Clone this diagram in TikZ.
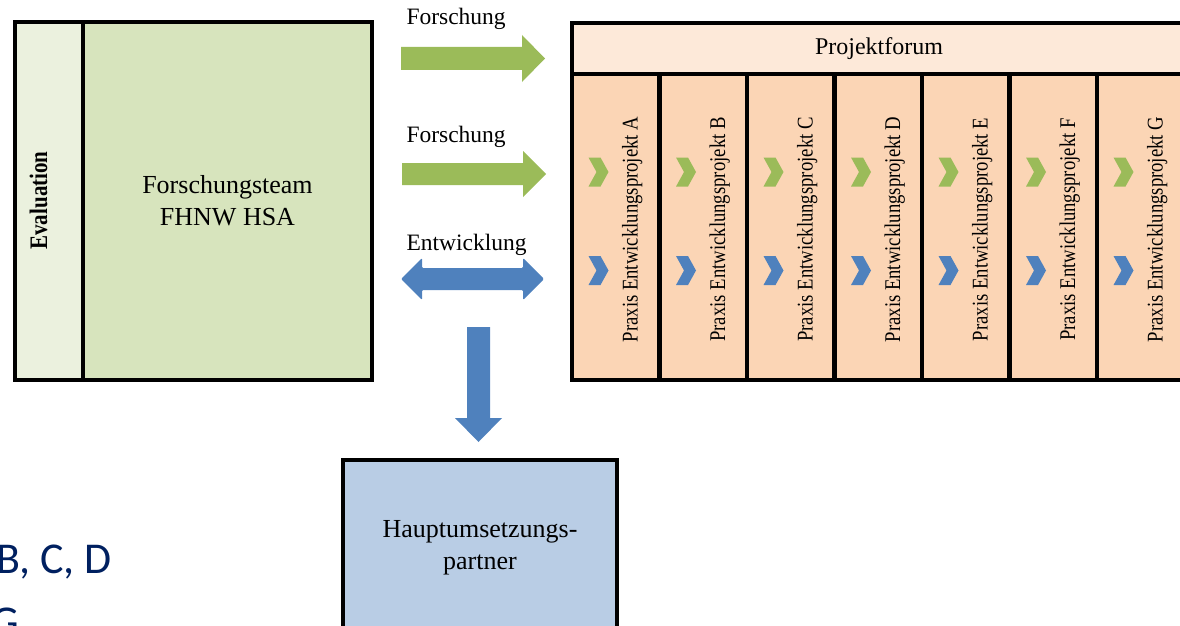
\documentclass[tikz,border=0pt]{standalone}
\usepackage{fontspec}
\setmainfont{Liberation Serif}
\newfontfamily\slidefont{Carlito}
\definecolor{evalc}{HTML}{EBF1DE}
\definecolor{teamc}{HTML}{D7E4BD}
\definecolor{forumc}{HTML}{FDE9D9}
\definecolor{praxc}{HTML}{FBD5B5}
\definecolor{partc}{HTML}{B9CDE5}
\definecolor{greenar}{HTML}{9BBB59}
\definecolor{bluear}{HTML}{4F81BD}
\definecolor{navy}{HTML}{002060}
\tikzset{
  box/.style={draw=black, line width=4.2pt, anchor=north west, inner sep=0pt, outer sep=0pt},
  lbl/.style={inner sep=0pt, outer sep=0pt, font=\fontsize{23.5}{28}\selectfont},
  vtext/.style={rotate=90, anchor=base, inner sep=0pt, outer sep=0pt},
  chev/.pic={\fill[pic actions] (0,0) -- (12,0) -- (20,14.5) -- (12,29) -- (0,29) -- (8,14.5) -- cycle;}
}
\newcommand{\praxlabel}[1]{\scalebox{1}[1.2]{\fontsize{18.7}{22}\selectfont Praxis Entwicklungsprojekt #1}}
\begin{document}
\begin{tikzpicture}[x=1pt,y=-1pt]
\useasboundingbox (0,0) rectangle (1180,626);
% left block
\node[box, fill=evalc, minimum width=68pt, minimum height=358pt] (eval) at (15,22) {};
\node[box, fill=teamc, minimum width=289pt, minimum height=358pt, align=center,
      font=\fontsize{26}{32}\selectfont] (team) at (83,22) {Forschungsteam\\FHNW HSA};
\node[vtext] (evallbl) at (47,200.5) {\scalebox{1}[1.2]{\fontsize{21}{24}\selectfont\bfseries Evaluation}};
% right block
\node[box, fill=forumc, minimum width=612.5pt, minimum height=51pt] (forum) at (572,23) {};
\node[lbl, anchor=base, font=\fontsize{24}{28}\selectfont] (forumlbl) at (879,55) {Projektforum};
\foreach \L/\n in {572/A, 659.5/B, 747/C, 834.5/D, 922/E, 1009.5/F, 1097/G}{
  \node[box, fill=praxc, minimum width=87.5pt, minimum height=306pt] (col\n) at (\L,74) {};
  \node[vtext] (txt\n) at (\L+65.5,229.5) {\praxlabel{\n}};
  \pic[fill=greenar] at (\L+16.5,157.5) {chev};
  \pic[fill=bluear] at (\L+16.5,256) {chev};
}
% bottom partner box
\node[box, fill=partc, minimum width=274pt, minimum height=175pt, align=center,
      font=\fontsize{26}{32}\selectfont] (partner) at (343,460) {Hauptumsetzungs-\\partner};
% arrows
\fill[greenar] (401,47) -- (522,47) -- (522,35) -- (545,58.5) -- (522,82) -- (522,70) -- (401,70) -- cycle;
\fill[greenar] (402,163) -- (523,163) -- (523,151) -- (546,174) -- (523,197) -- (523,185) -- (402,185) -- cycle;
\fill[bluear, rounded corners=1.2pt] (401,279) -- (422,258) -- (422,268) -- (523,268) -- (523,258) -- (544,279)
   -- (523,300) -- (523,290) -- (422,290) -- (422,300) -- cycle;
\fill[bluear] (467,327) -- (490,327) -- (490,418) -- (502,418) -- (478.5,442) -- (455,418) -- (467,418) -- cycle;
% arrow labels
\node[lbl, anchor=base west] (f1) at (406.5,25) {Forschung};
\node[lbl, anchor=base west] (f2) at (406.5,142) {Forschung};
\node[lbl, anchor=base west] (e1) at (406.5,250) {Entwicklung};
% slide text
\node[anchor=base east, inner sep=0pt, text=navy, font=\slidefont\fontsize{44}{52}\selectfont] (bcd) at (112,573) {B, C, D};
\node[anchor=base east, inner sep=0pt, text=navy, font=\slidefont\fontsize{44}{52}\selectfont] (g) at (19,636) {G};
\end{tikzpicture}
\end{document}
